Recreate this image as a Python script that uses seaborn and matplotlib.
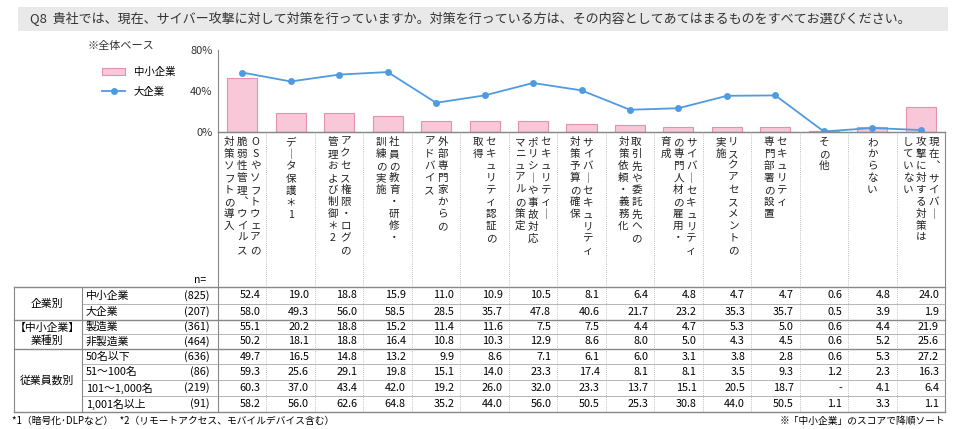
import matplotlib
matplotlib.use("Agg")
import matplotlib.pyplot as plt
from matplotlib.lines import Line2D
from matplotlib.patches import Rectangle
import seaborn as sns
import pandas as pd
import numpy as np

plt.rcParams["font.family"] = "Noto Sans CJK JP"

labels = [
    ["OSやソフトウェアの", "脆弱性管理、ウイルス", "対策ソフトの導入"],
    ["データ保護＊1"],
    ["アクセス権限・ログの", "管理および制御＊2"],
    ["社員の教育・研修・", "訓練の実施"],
    ["外部専門家からの", "アドバイス"],
    ["セキュリティ認証の", "取得"],
    ["セキュリティー", "ポリシーや事故対応", "マニュアルの策定"],
    ["サイバーセキュリティ", "対策予算の確保"],
    ["取引先や委託先への", "対策依頼・義務化"],
    ["サイバーセキュリティ", "の専門人材の雇用・", "育成"],
    ["リスクアセスメントの", "実施"],
    ["セキュリティ", "専門部署の設置"],
    ["その他"],
    ["わからない"],
    ["現在、サイバー", "攻撃に対する対策は", "していない"],
]
sme = [52.4, 19.0, 18.8, 15.9, 11.0, 10.9, 10.5, 8.1, 6.4, 4.8, 4.7, 4.7, 0.6, 4.8, 24.0]
large = [58.0, 49.3, 56.0, 58.5, 28.5, 35.7, 47.8, 40.6, 21.7, 23.2, 35.3, 35.7, 0.5, 3.9, 1.9]

row_groups = ["企業別", "【中小企業】\n業種別", "従業員数別"]
group_rows = [2, 2, 4]
row_names = ["中小企業", "大企業", "製造業", "非製造業", "50名以下", "51～100名", "101～1,000名", "1,001名以上"]
row_n = ["(825)", "(207)", "(361)", "(464)", "(636)", "(86)", "(219)", "(91)"]
table = [
    ["52.4", "19.0", "18.8", "15.9", "11.0", "10.9", "10.5", "8.1", "6.4", "4.8", "4.7", "4.7", "0.6", "4.8", "24.0"],
    ["58.0", "49.3", "56.0", "58.5", "28.5", "35.7", "47.8", "40.6", "21.7", "23.2", "35.3", "35.7", "0.5", "3.9", "1.9"],
    ["55.1", "20.2", "18.8", "15.2", "11.4", "11.6", "7.5", "7.5", "4.4", "4.7", "5.3", "5.0", "0.6", "4.4", "21.9"],
    ["50.2", "18.1", "18.8", "16.4", "10.8", "10.3", "12.9", "8.6", "8.0", "5.0", "4.3", "4.5", "0.6", "5.2", "25.6"],
    ["49.7", "16.5", "14.8", "13.2", "9.9", "8.6", "7.1", "6.1", "6.0", "3.1", "3.8", "2.8", "0.6", "5.3", "27.2"],
    ["59.3", "25.6", "29.1", "19.8", "15.1", "14.0", "23.3", "17.4", "8.1", "8.1", "3.5", "9.3", "1.2", "2.3", "16.3"],
    ["60.3", "37.0", "43.4", "42.0", "19.2", "26.0", "32.0", "23.3", "13.7", "15.1", "20.5", "18.7", "-", "4.1", "6.4"],
    ["58.2", "56.0", "62.6", "64.8", "35.2", "44.0", "56.0", "50.5", "25.3", "30.8", "44.0", "50.5", "1.1", "3.3", "1.1"],
]
yticks = [0, 40, 80]

W, H = 954, 429
fig = plt.figure(figsize=(W / 100, H / 100), dpi=100)

def fx(x): return x / W
def fy(y): return 1 - y / H
def hline(x0, x1, y, **kw): fig.add_artist(Line2D([fx(x0), fx(x1)], [fy(y), fy(y)], **kw))
def vline(x, y0, y1, **kw): fig.add_artist(Line2D([fx(x), fx(x)], [fy(y0), fy(y1)], **kw))

# title band
fig.add_artist(Rectangle((fx(18), fy(31)), fx(930), 24 / H, color="#e9e9e9", lw=0))
fig.text(fx(30), fy(19), "Q8  貴社では、現在、サイバー攻撃に対して対策を行っていますか。対策を行っている方は、その内容としてあてはまるものをすべてお選びください。",
         fontsize=9.4, color="#333333", va="center")
fig.text(fx(88), fy(46), "※全体ベース", fontsize=8, color="#333333", va="center")

X0, X1 = 218, 945
n = len(sme)
cw = (X1 - X0) / n
ax = fig.add_axes([fx(X0), fy(132), fx(X1 - X0), (132 - 50) / H])
df = pd.DataFrame({"cat": [str(i) for i in range(n)], "sme": sme, "large": large})
sns.barplot(data=df, x="cat", y="sme", ax=ax, color="#f8c8d8", edgecolor="#e391b0",
            linewidth=0.8, width=0.62, label="中小企業", saturation=1)
sns.lineplot(x=np.arange(n), y=large, ax=ax, color="#4f9be0", lw=1.3, marker="o",
             markersize=5, markeredgewidth=0, label="大企業")
ax.set_xlim(-0.5, n - 0.5)
ax.set_ylim(0, 80)
ax.set_yticks(yticks)
ax.set_yticklabels([f"{v}%" for v in yticks], fontsize=8, color="#333333")
ax.set_xticks([])
ax.set_xlabel(""); ax.set_ylabel("")
for s in ["top", "right"]:
    ax.spines[s].set_visible(False)
ax.spines["left"].set_color("#888888")
ax.spines["bottom"].set_color("#888888")
ax.tick_params(axis="y", length=0, pad=4)
h, l = ax.get_legend_handles_labels()
order = [l.index("中小企業"), l.index("大企業")]
ax.legend([h[i] for i in order], [l[i] for i in order], loc="upper left",
          bbox_to_anchor=((95 - X0) / (X1 - X0), 0.88),
          frameon=False, fontsize=7.5, handlelength=2.2, borderaxespad=0.3, labelspacing=0.9)

# label area & table
TOP, LB = 132, 287
rows_y = [287, 304, 320, 334, 349, 364, 380, 396, 412]
hline(14, X1, LB, color="#888888", lw=1)
hline(X0, X1, TOP, color="#888888", lw=1)
vline(X1, TOP, 412, color="#888888", lw=0.8)
vline(X0, TOP, LB, color="#888888", lw=0.8)
fig.text(fx(200), fy(280), "n=", fontsize=7.5, va="center", ha="center")
for i in range(n):
    cx = X0 + cw * (i + 0.5)
    if i > 0:
        vline(X0 + cw * i, TOP, 412, color="#aaaaaa", lw=0.6, ls=(0, (1, 1.5)))
    cols = labels[i]
    k = len(cols)
    for j, txt in enumerate(cols):
        xx = cx + ((k - 1) / 2 - j) * 13
        t = txt.replace("ー", "｜").replace("、", "︑")
        fig.text(fx(xx), fy(137), "\n".join(t), fontsize=7.6, ha="center", va="top",
                 linespacing=1.25, color="#222222")
# table rows
r = 0
for g, cnt in zip(row_groups, group_rows):
    y0, y1 = rows_y[r], rows_y[r + cnt]
    fig.text(fx(47), fy((y0 + y1) / 2), g, fontsize=7.8, ha="center", va="center", linespacing=1.3)
    for k in range(cnt):
        ya, yb = rows_y[r + k], rows_y[r + k + 1]
        ym = (ya + yb) / 2
        fig.text(fx(86), fy(ym), row_names[r + k], fontsize=7.8, va="center")
        fig.text(fx(210), fy(ym), row_n[r + k], fontsize=7.8, va="center", ha="right")
        for i in range(n):
            fig.text(fx(X0 + cw * (i + 1) - 6), fy(ym), table[r + k][i], fontsize=7.8,
                     va="center", ha="right")
        if k < cnt - 1:
            hline(82, X1, yb, color="#aaaaaa", lw=0.6)
    r += cnt
    hline(14, X1, y1, color="#888888", lw=1)
vline(14, LB, 412, color="#888888", lw=0.8)
vline(82, LB, 412, color="#888888", lw=0.8)
vline(X0, LB, 412, color="#888888", lw=0.8)

fig.text(fx(12), fy(421), "*1（暗号化･DLPなど）   *2（リモートアクセス、モバイルデバイス含む）", fontsize=7, va="center")
fig.text(fx(945), fy(421), "※「中小企業」のスコアで降順ソート", fontsize=7, va="center", ha="right")

fig.savefig("out.png", dpi=100)
